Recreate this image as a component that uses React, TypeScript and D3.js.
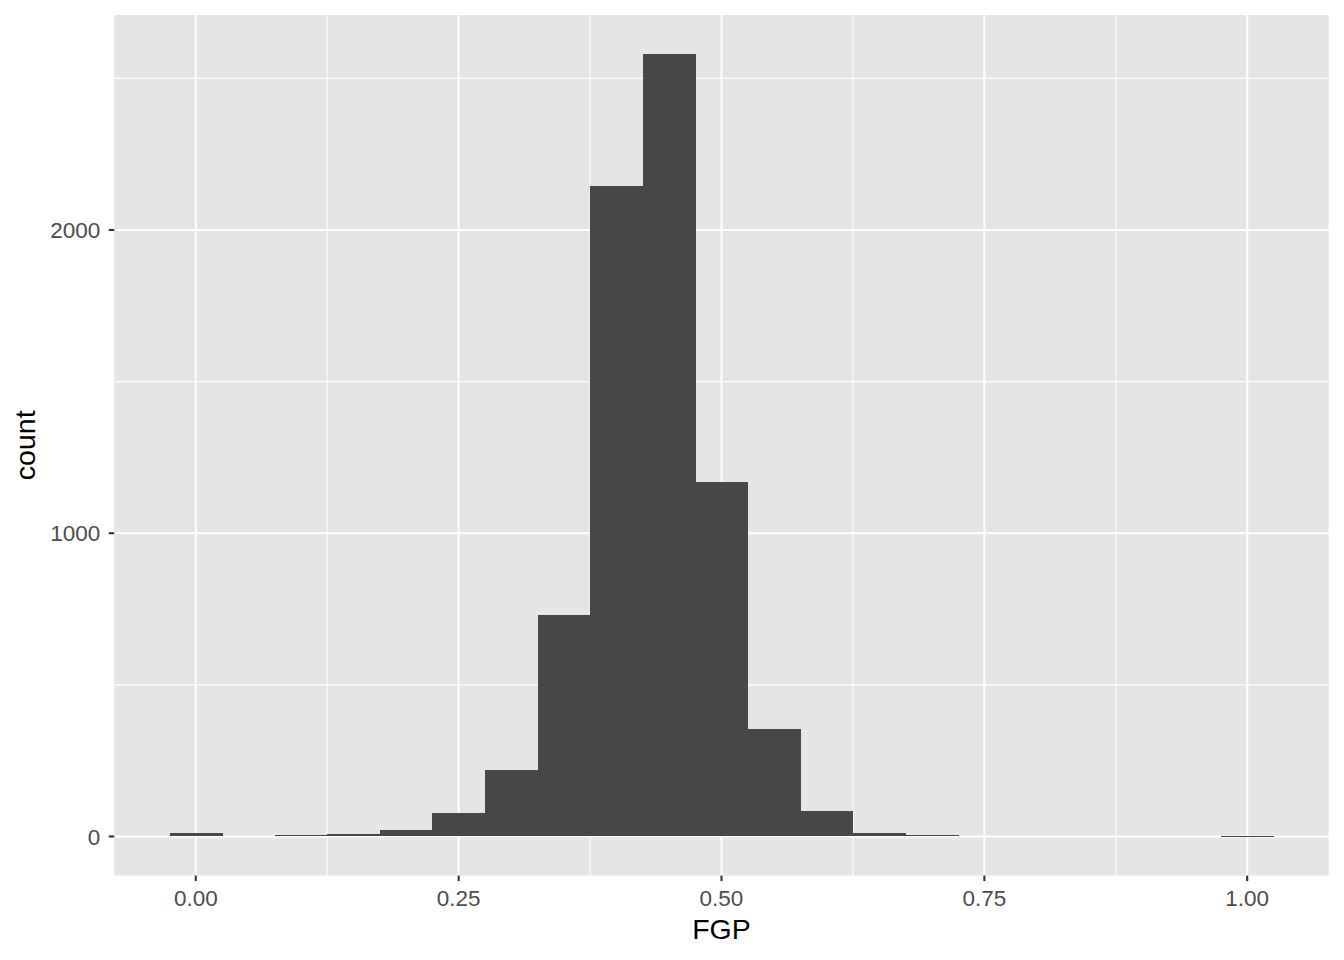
import React from 'react';
import * as d3 from 'd3';

// histogram bins (width 0.05), centre values and counts
const binCenters = [0.0, 0.05, 0.1, 0.15, 0.2, 0.25, 0.3, 0.35, 0.4, 0.45, 0.5, 0.55, 0.6, 0.65, 0.7, 0.75, 0.8, 0.85, 0.9, 0.95, 1.0];
const binCounts = [12, 0, 5, 8, 21, 77, 218, 729, 2146, 2580, 1168, 356, 83, 12, 6, 0, 0, 0, 0, 0, 2];
const binWidth = 0.05;

const xTicks = [0, 0.25, 0.5, 0.75, 1.0];
const xMinor = [0.125, 0.375, 0.625, 0.875];
const yTicks = [0, 1000, 2000];
const yMinor = [500, 1500, 2500];

const W = 1344;
const H = 960;
const panel = { left: 114.3, right: 1328.7, top: 15, bottom: 875.6 };

export default function App() {
  const x = d3.scaleLinear().domain([-0.0775, 1.0775]).range([panel.left, panel.right]);
  const yMax = d3.max(binCounts) as number;
  const y = d3
    .scaleLinear()
    .domain([-yMax * 0.05, yMax * 1.05])
    .range([panel.bottom, panel.top]);

  const font = '"Liberation Sans", Arial, Helvetica, sans-serif';

  return (
    <svg width={W} height={H} style={{ position: 'absolute', left: 0, top: 0, background: '#fff' }} fontFamily={font}>
      <rect x={panel.left} y={panel.top} width={panel.right - panel.left} height={panel.bottom - panel.top} fill="#E5E5E5" />
      {xMinor.map(t => (
        <line key={'xm' + t} x1={x(t)} x2={x(t)} y1={panel.top} y2={panel.bottom} stroke="#fff" strokeWidth={1.1} />
      ))}
      {yMinor.map(t => (
        <line key={'ym' + t} y1={y(t)} y2={y(t)} x1={panel.left} x2={panel.right} stroke="#fff" strokeWidth={1.1} />
      ))}
      {xTicks.map(t => (
        <line key={'xM' + t} x1={x(t)} x2={x(t)} y1={panel.top} y2={panel.bottom} stroke="#fff" strokeWidth={2.1} />
      ))}
      {yTicks.map(t => (
        <line key={'yM' + t} y1={y(t)} y2={y(t)} x1={panel.left} x2={panel.right} stroke="#fff" strokeWidth={2.1} />
      ))}
      <g shapeRendering="crispEdges">
        {binCenters.map((c, i) =>
          binCounts[i] > 0 ? (
            <rect
              key={'b' + i}
              x={x(c - binWidth / 2)}
              y={y(binCounts[i])}
              width={x(c + binWidth / 2) - x(c - binWidth / 2) + 0.5}
              height={Math.max(1, y(0) - y(binCounts[i]))}
              fill="#474747"
            />
          ) : null
        )}
      </g>
      {xTicks.map(t => (
        <g key={'xt' + t}>
          <line x1={x(t)} x2={x(t)} y1={panel.bottom} y2={panel.bottom + 5.5} stroke="#333" strokeWidth={2.1} />
          <text x={x(t)} y={906} textAnchor="middle" fontSize={22.5} fill="#4D4D4D">
            {d3.format('.2f')(t)}
          </text>
        </g>
      ))}
      {yTicks.map(t => (
        <g key={'yt' + t}>
          <line x1={panel.left - 5.5} x2={panel.left} y1={y(t)} y2={y(t)} stroke="#333" strokeWidth={2.1} />
          <text x={panel.left - 14} y={y(t)} dy="0.36em" textAnchor="end" fontSize={22.5} fill="#4D4D4D">
            {t}
          </text>
        </g>
      ))}
      <text x={(panel.left + panel.right) / 2} y={939} textAnchor="middle" fontSize={28.5} fill="#000">
        FGP
      </text>
      <text transform={`translate(35,${(panel.top + panel.bottom) / 2}) rotate(-90)`} textAnchor="middle" fontSize={28.5} fill="#000">
        count
      </text>
    </svg>
  );
}
